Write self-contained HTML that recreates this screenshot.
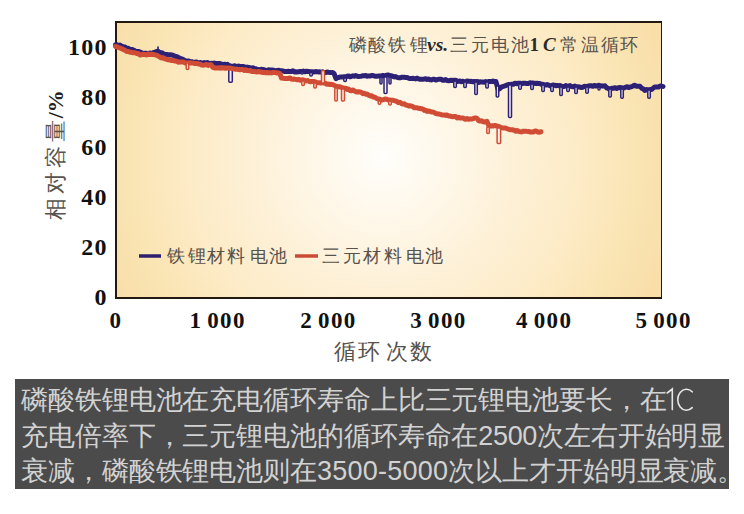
<!DOCTYPE html>
<html><head><meta charset="utf-8">
<style>
html,body{margin:0;padding:0;background:#fff;width:744px;height:514px;overflow:hidden;position:relative}
.plot{position:absolute;left:115px;top:21px;width:544px;height:274px;border:2px solid #221a10;border-right-width:1px;
background:radial-gradient(circle at 266px 134px,#fffefb 0px,#fffaf0 40px,#fdf0d6 135px,#fdebc6 200px,#fbe6b8 240px,#f9e3b0 265px,#f9e0ad 285px,#fadea8 300px,#f9daa2 340px)}
svg{position:absolute;left:0;top:0}
.cap{position:absolute;left:15px;top:379px;width:714px;height:110px;background:#4b4b4b;color:#d2d2d2;
font-family:"Liberation Sans",sans-serif;font-size:27px;line-height:35px;letter-spacing:-0.1px}
.cap div{position:absolute;left:6px;white-space:nowrap}
</style></head><body>
<div class="plot"></div>
<svg width="744" height="514" viewBox="0 0 744 514">
<text x="107.7" y="55.4" font-size="24" font-weight="bold" letter-spacing="1.2" text-anchor="end" fill="#111" font-family="Liberation Serif">100</text>
<text x="107.7" y="105.4" font-size="24" font-weight="bold" letter-spacing="1.2" text-anchor="end" fill="#111" font-family="Liberation Serif">80</text>
<text x="107.7" y="155.4" font-size="24" font-weight="bold" letter-spacing="1.2" text-anchor="end" fill="#111" font-family="Liberation Serif">60</text>
<text x="107.7" y="205.4" font-size="24" font-weight="bold" letter-spacing="1.2" text-anchor="end" fill="#111" font-family="Liberation Serif">40</text>
<text x="107.7" y="255.4" font-size="24" font-weight="bold" letter-spacing="1.2" text-anchor="end" fill="#111" font-family="Liberation Serif">20</text>
<text x="107.7" y="305.4" font-size="24" font-weight="bold" letter-spacing="1.2" text-anchor="end" fill="#111" font-family="Liberation Serif">0</text>
<text x="115.9" y="327.6" font-size="23" font-weight="bold" letter-spacing="1.3" word-spacing="-2" text-anchor="middle" fill="#111" font-family="Liberation Serif">0</text>
<text x="217.6" y="327.6" font-size="23" font-weight="bold" letter-spacing="1.3" word-spacing="-2" text-anchor="middle" fill="#111" font-family="Liberation Serif">1 000</text>
<text x="328.4" y="327.6" font-size="23" font-weight="bold" letter-spacing="1.3" word-spacing="-2" text-anchor="middle" fill="#111" font-family="Liberation Serif">2 000</text>
<text x="438.4" y="327.6" font-size="23" font-weight="bold" letter-spacing="1.3" word-spacing="-2" text-anchor="middle" fill="#111" font-family="Liberation Serif">3 000</text>
<text x="544.1" y="327.6" font-size="23" font-weight="bold" letter-spacing="1.3" word-spacing="-2" text-anchor="middle" fill="#111" font-family="Liberation Serif">4 000</text>
<text x="663.6" y="327.6" font-size="23" font-weight="bold" letter-spacing="1.3" word-spacing="-2" text-anchor="middle" fill="#111" font-family="Liberation Serif">5 000</text>
<text x="348.5" y="51.0" font-size="18" fill="#57524c" font-family="Liberation Serif">磷</text>
<text x="368.0" y="51.0" font-size="18" fill="#57524c" font-family="Liberation Serif">酸</text>
<text x="387.5" y="51.0" font-size="18" fill="#57524c" font-family="Liberation Serif">铁</text>
<text x="410.4" y="51.0" font-size="18" fill="#57524c" font-family="Liberation Serif">锂</text>
<text x="427" y="51" font-size="19.5" font-weight="bold" font-style="italic" fill="#2a2a2a" font-family="Liberation Serif">vs.</text>
<text x="449.5" y="51.0" font-size="18" fill="#57524c" font-family="Liberation Serif">三</text>
<text x="471.1" y="51.0" font-size="18" fill="#57524c" font-family="Liberation Serif">元</text>
<text x="491.2" y="51.0" font-size="18" fill="#57524c" font-family="Liberation Serif">电</text>
<text x="510.7" y="51.0" font-size="18" fill="#57524c" font-family="Liberation Serif">池</text>
<text x="529.5" y="51" font-size="19" font-weight="bold" fill="#2a2a2a" font-family="Liberation Serif">1</text>
<text x="543" y="51" font-size="19" font-weight="bold" font-style="italic" fill="#2a2a2a" font-family="Liberation Serif">C</text>
<text x="560.3" y="51.0" font-size="18" fill="#57524c" font-family="Liberation Serif">常</text>
<text x="580.5" y="51.0" font-size="18" fill="#57524c" font-family="Liberation Serif">温</text>
<text x="600.7" y="51.0" font-size="18" fill="#57524c" font-family="Liberation Serif">循</text>
<text x="620.1" y="51.0" font-size="18" fill="#57524c" font-family="Liberation Serif">环</text>
<text x="166.5" y="262.0" font-size="18" fill="#57524c" font-family="Liberation Serif">铁</text>
<text x="188.3" y="262.0" font-size="18" fill="#57524c" font-family="Liberation Serif">锂</text>
<text x="206.7" y="262.0" font-size="18" fill="#57524c" font-family="Liberation Serif">材</text>
<text x="226.8" y="262.0" font-size="18" fill="#57524c" font-family="Liberation Serif">料</text>
<text x="250.4" y="262.0" font-size="18" fill="#57524c" font-family="Liberation Serif">电</text>
<text x="268.8" y="262.0" font-size="18" fill="#57524c" font-family="Liberation Serif">池</text>
<text x="322.4" y="262.0" font-size="18" fill="#57524c" font-family="Liberation Serif">三</text>
<text x="343.3" y="262.0" font-size="18" fill="#57524c" font-family="Liberation Serif">元</text>
<text x="362.5" y="262.0" font-size="18" fill="#57524c" font-family="Liberation Serif">材</text>
<text x="383.5" y="262.0" font-size="18" fill="#57524c" font-family="Liberation Serif">料</text>
<text x="405.5" y="262.0" font-size="18" fill="#57524c" font-family="Liberation Serif">电</text>
<text x="424.5" y="262.0" font-size="18" fill="#57524c" font-family="Liberation Serif">池</text>
<text x="333.8" y="358.6" font-size="22" fill="#57524c" font-family="Liberation Serif">循</text>
<text x="358.0" y="358.6" font-size="22" fill="#57524c" font-family="Liberation Serif">环</text>
<text x="386.3" y="358.6" font-size="22" fill="#57524c" font-family="Liberation Serif">次</text>
<text x="409.6" y="358.6" font-size="22" fill="#57524c" font-family="Liberation Serif">数</text>
<text transform="translate(62.5,219.8) rotate(-90)" x="0" y="0" font-size="21.5" fill="#57524c" font-family="Liberation Serif">相</text>
<text transform="translate(62.5,194.0) rotate(-90)" x="0" y="0" font-size="21.5" fill="#57524c" font-family="Liberation Serif">对</text>
<text transform="translate(62.5,168.1) rotate(-90)" x="0" y="0" font-size="21.5" fill="#57524c" font-family="Liberation Serif">容</text>
<text transform="translate(62.5,142.3) rotate(-90)" x="0" y="0" font-size="21.5" fill="#57524c" font-family="Liberation Serif">量</text>
<text transform="translate(62.5,118.3) rotate(-90)" x="0" y="0" font-size="22" font-weight="bold" fill="#222" font-family="Liberation Serif">/%</text>
<line x1="139" y1="256" x2="161" y2="256" stroke="#2d1f6e" stroke-width="3.5"/>
<line x1="295" y1="256" x2="318" y2="256" stroke="#cc4a35" stroke-width="3.5"/>
<polyline fill="none" stroke-linejoin="round" stroke-linecap="round" stroke="#2d2175" stroke-width="5" points="115.5,44.8 117.0,44.8 118.5,45.6 120.0,45.1 121.7,46.3 123.3,46.7 125.0,47.0 126.7,48.2 128.3,48.3 130.0,49.5 131.7,49.5 133.3,50.0 135.0,50.8 136.7,51.8 138.3,51.4 140.0,52.0 141.7,52.8 143.3,53.4 145.0,53.3 146.7,53.2 148.3,54.0 150.0,53.0 151.7,53.6 153.3,52.6 155.0,52.1 156.5,51.5 158.0,51.3 160.0,52.9 161.7,52.7 163.3,53.7 165.0,54.4 166.7,54.4 168.3,54.9 170.0,54.7 171.7,55.0 173.3,55.4 175.0,56.3 176.7,56.7 178.3,57.3 180.0,58.3 181.7,58.9 183.3,59.5 185.0,60.9 186.7,61.1 188.3,60.9 190.0,61.6 191.7,61.7 193.3,62.3 195.0,62.3 196.7,62.1 198.3,63.2 200.0,62.5 201.4,62.9 202.9,63.3 204.3,62.6 205.8,63.0 207.2,62.5 208.7,63.3 210.1,63.4 211.6,63.2 213.0,63.6 214.4,63.0 215.8,63.5 217.2,63.5 218.6,63.6 220.0,63.5 221.5,64.2 223.0,64.6 224.5,64.2 226.0,64.7 227.3,64.3 228.7,65.4 230.0,65.7 231.4,66.3 232.9,66.3 234.3,65.8 235.7,66.1 237.1,66.6 238.6,66.0 240.0,66.8 241.4,66.5 242.9,66.6 244.3,66.7 245.7,67.7 247.1,67.1 248.6,67.4 250.0,67.7 251.4,68.5 252.9,67.8 254.3,68.5 255.7,68.8 257.1,69.5 258.6,69.6 260.0,69.9 261.4,69.3 262.9,69.6 264.3,69.7 265.7,70.4 267.1,70.6 268.6,69.8 270.0,69.9 271.5,70.1 273.0,70.1 274.5,70.5 276.0,70.7 277.5,70.4 279.0,70.2 280.5,70.8 282.0,70.8 283.5,71.1 285.0,71.6 286.7,71.4 288.3,71.3 290.0,71.4 291.4,71.5 292.9,70.8 294.3,71.9 295.7,71.8 297.1,71.9 298.6,71.8 300.0,71.4 301.7,71.4 303.3,71.1 305.0,71.8 306.7,71.2 308.3,71.4 310.0,71.8 311.7,71.7 313.3,72.0 315.0,71.7 316.5,71.6 318.0,71.9 319.5,71.8 321.0,72.2 322.5,71.8 324.0,72.9 325.5,72.6 327.0,72.1 328.5,72.3 330.0,72.4 331.3,72.6 332.7,72.4 334.0,73.4 336.0,78.6 337.3,77.8 338.7,77.6 340.0,77.0 341.4,76.9 342.9,77.0 344.3,76.7 345.7,77.2 347.1,76.2 348.6,75.9 350.0,76.8 351.4,76.3 352.9,75.8 354.3,76.2 355.7,75.6 357.1,76.1 358.6,76.6 360.0,76.4 361.4,76.2 362.9,75.7 364.3,75.8 365.7,75.5 367.1,76.2 368.6,75.9 370.0,76.1 371.4,75.6 372.9,75.4 374.3,76.1 375.7,76.3 377.1,76.2 378.6,76.1 380.0,76.1 381.4,76.0 382.9,75.4 384.3,75.7 385.7,75.5 387.1,75.1 388.6,75.1 390.0,75.4 391.4,75.6 392.9,76.4 394.3,76.9 395.7,76.6 397.1,77.4 398.6,77.7 400.0,77.8 401.4,77.3 402.9,77.2 404.3,77.3 405.7,77.4 407.1,77.5 408.6,78.1 410.0,78.6 411.4,78.6 412.9,78.3 414.3,78.6 415.7,78.9 417.1,78.1 418.6,78.9 420.0,79.3 421.4,79.2 422.9,79.2 424.3,79.0 425.7,78.7 427.1,79.5 428.6,79.0 430.0,79.7 431.4,79.9 432.9,79.3 434.3,79.3 435.7,80.0 437.1,79.8 438.6,79.2 440.0,79.2 441.4,79.3 442.9,80.3 444.3,80.3 445.7,79.6 447.1,80.5 448.6,80.8 450.0,80.5 451.4,80.2 452.9,80.6 454.3,80.2 455.7,80.2 457.1,81.4 458.6,81.2 460.0,81.1 461.4,81.7 462.9,81.2 464.3,81.8 465.7,81.8 467.1,81.1 468.6,81.2 470.0,81.4 471.4,81.3 472.9,81.8 474.3,81.5 475.7,81.7 477.1,81.4 478.6,82.4 480.0,81.8 481.4,81.9 482.9,81.9 484.3,82.2 485.7,81.6 487.1,82.1 488.6,81.5 490.0,81.4 491.5,81.6 493.0,81.1 494.5,81.8 496.0,81.6 498.0,89.4 500.0,88.4 501.7,86.8 503.3,86.3 505.0,85.8 506.7,85.2 508.3,84.6 510.0,84.5 511.7,84.3 513.3,84.3 515.0,83.2 516.7,83.7 518.3,83.3 520.0,83.2 521.7,83.7 523.3,83.3 525.0,83.3 526.7,83.4 528.3,83.5 530.0,82.8 531.4,83.1 532.9,83.1 534.3,83.2 535.7,83.5 537.1,83.3 538.6,83.5 540.0,83.6 541.4,84.4 542.9,84.3 544.3,84.8 545.7,85.1 547.1,84.5 548.6,85.1 550.0,85.8 551.4,85.8 552.9,85.1 554.3,85.2 555.7,85.7 557.1,85.4 558.6,85.7 560.0,85.6 561.4,86.3 562.9,86.4 564.3,86.5 565.7,85.6 567.1,86.3 568.6,86.2 570.0,85.6 571.7,86.6 573.3,86.8 575.0,86.0 576.7,87.1 578.3,86.7 580.0,87.1 581.4,87.5 582.9,87.2 584.3,86.3 585.7,86.4 587.1,86.4 588.6,86.0 590.0,85.7 591.4,85.8 592.9,86.3 594.3,85.4 595.7,86.0 597.1,85.8 598.6,85.3 600.0,85.6 601.7,86.1 603.3,86.1 605.0,85.8 606.7,87.8 608.3,88.4 610.0,89.6 611.7,88.3 613.3,88.3 615.0,87.7 616.7,88.5 618.3,87.8 620.0,87.6 621.4,87.7 622.9,88.2 624.3,87.9 625.7,87.1 627.1,86.8 628.6,87.6 630.0,87.0 631.7,86.8 633.3,85.7 635.0,85.3 636.7,86.3 638.3,86.3 640.0,86.2 641.7,88.3 643.3,89.1 645.0,90.4 646.7,89.5 648.3,90.4 650.0,89.5 651.7,89.5 653.3,88.0 655.0,86.9 656.7,86.9 658.3,87.1 660.0,86.0 661.5,86.0 663.0,86.5"/>
<line x1="158" y1="52" x2="158" y2="47" stroke="#2d2175" stroke-width="1.6" stroke-linecap="round"/>
<g fill="#f4f0f4" stroke="#2d2175" stroke-width="1.5">
<rect x="228.8" y="66.0" width="3.5" height="16.3" rx="1"/>
<rect x="300.8" y="72.0" width="2.5" height="2.0" rx="1"/>
<rect x="309.8" y="72.5" width="2.5" height="3.5" rx="1"/>
<rect x="343.8" y="78.0" width="2.5" height="3.5" rx="1"/>
<rect x="384.0" y="77.0" width="3.0" height="16.5" rx="1"/>
<rect x="380.0" y="77.0" width="2.0" height="7.0" rx="1"/>
<rect x="389.0" y="77.0" width="2.0" height="7.0" rx="1"/>
<rect x="453.8" y="81.0" width="2.5" height="6.5" rx="1"/>
<rect x="463.8" y="82.0" width="2.5" height="5.5" rx="1"/>
<rect x="474.8" y="82.0" width="2.5" height="12.5" rx="1"/>
<rect x="485.8" y="82.0" width="2.5" height="6.1" rx="1"/>
<rect x="496.2" y="86.0" width="2.5" height="11.0" rx="1"/>
<rect x="508.5" y="85.0" width="3.0" height="32.5" rx="1"/>
<rect x="518.8" y="84.0" width="2.5" height="5.3" rx="1"/>
<rect x="530.8" y="84.0" width="2.5" height="5.5" rx="1"/>
<rect x="541.8" y="85.0" width="2.5" height="6.5" rx="1"/>
<rect x="550.8" y="86.0" width="2.5" height="5.5" rx="1"/>
<rect x="559.8" y="87.0" width="2.5" height="8.5" rx="1"/>
<rect x="566.8" y="87.0" width="2.5" height="4.5" rx="1"/>
<rect x="574.8" y="87.0" width="2.5" height="6.5" rx="1"/>
<rect x="585.8" y="87.0" width="2.5" height="6.2" rx="1"/>
<rect x="598.0" y="87.0" width="2.0" height="3.0" rx="1"/>
<rect x="608.8" y="89.0" width="2.5" height="7.9" rx="1"/>
<rect x="620.8" y="89.0" width="2.5" height="9.2" rx="1"/>
<rect x="647.8" y="90.0" width="2.5" height="8.2" rx="1"/>
</g>
<polyline fill="none" stroke-linejoin="round" stroke-linecap="round" stroke="#d04c35" stroke-width="5" points="115.5,46.5 117.0,46.9 118.5,47.5 120.0,48.0 121.7,48.8 123.3,49.6 125.0,50.3 126.7,51.4 128.3,51.4 130.0,52.3 131.7,52.3 133.3,52.8 135.0,52.8 136.7,53.5 138.3,53.6 140.0,54.9 141.7,54.7 143.3,54.2 145.0,54.6 146.7,55.0 148.3,53.9 150.0,54.6 151.7,54.2 153.3,54.4 155.0,54.9 156.7,55.2 158.3,56.2 160.0,57.2 161.7,58.1 163.3,57.8 165.0,58.9 166.7,59.3 168.3,59.8 170.0,60.1 171.7,60.5 173.3,60.5 175.0,61.1 176.7,61.2 178.3,62.3 180.0,61.9 181.7,61.9 183.3,61.9 185.0,62.9 186.7,63.1 188.3,63.0 190.0,62.7 191.7,62.9 193.3,63.1 195.0,63.5 196.7,63.4 198.3,64.0 200.0,64.1 201.7,65.1 203.3,65.2 205.0,64.9 206.5,64.5 208.0,65.5 209.5,64.7 211.0,64.8 213.0,67.4 214.4,67.9 215.8,68.0 217.2,68.1 218.6,67.8 220.0,68.2 221.4,67.6 222.9,68.0 224.3,67.8 225.7,68.3 227.1,67.9 228.6,67.9 230.0,68.3 231.4,68.3 232.9,68.8 234.3,68.9 235.7,69.3 237.1,69.3 238.6,69.4 240.0,69.8 241.4,69.4 242.9,69.5 244.3,70.5 245.7,69.7 247.1,70.6 248.6,70.8 250.0,70.3 251.4,71.4 252.9,71.6 254.3,71.5 255.7,71.8 257.1,72.0 258.6,71.4 260.0,72.0 261.4,72.1 262.9,72.5 264.3,72.6 265.7,72.7 267.1,72.5 268.6,72.9 270.0,72.7 271.4,72.9 272.9,72.5 274.3,72.4 275.7,72.6 277.1,73.0 278.6,72.9 280.0,73.9 281.5,78.1 283.2,78.3 285.0,78.4 286.7,78.5 288.3,78.4 290.0,77.9 291.4,79.1 292.9,79.2 294.3,79.1 295.7,79.4 297.1,79.8 298.6,79.3 300.0,80.3 301.5,79.9 303.0,79.8 304.5,80.3 306.0,81.0 307.5,80.5 309.0,81.4 310.5,81.8 312.0,81.4 313.5,81.5 315.0,81.8 316.5,82.3 318.0,82.7 319.5,82.8 321.0,83.1 322.5,82.6 324.0,83.0 325.5,83.4 327.0,84.3 328.5,84.0 330.0,84.6 331.4,84.3 332.9,84.7 334.3,85.3 335.7,86.1 337.1,86.5 338.6,86.9 340.0,86.7 341.4,87.4 342.9,87.8 344.3,88.2 345.7,88.2 347.1,89.5 348.6,89.1 350.0,90.5 351.4,90.8 352.9,90.0 354.3,90.8 355.7,91.6 357.1,92.1 358.6,91.8 360.0,91.9 361.4,92.3 362.9,93.7 364.3,93.3 365.7,94.2 367.1,94.1 368.6,95.1 370.0,96.0 371.7,95.7 373.3,97.1 375.0,97.3 376.7,98.5 378.3,99.1 380.0,99.3 381.7,100.1 383.3,99.6 385.0,99.0 386.7,99.2 388.3,100.0 390.0,100.1 391.7,100.2 393.3,100.3 395.0,100.8 396.7,101.4 398.3,102.6 400.0,102.2 401.4,103.6 402.9,104.1 404.3,103.7 405.7,105.1 407.1,105.3 408.6,106.0 410.0,105.7 411.4,106.2 412.9,106.7 414.3,107.8 415.7,107.7 417.1,107.8 418.6,108.3 420.0,108.5 421.4,108.7 422.9,109.2 424.3,110.4 425.7,110.2 427.1,111.4 428.6,111.0 430.0,111.4 431.4,112.0 432.9,112.0 434.3,112.5 435.7,113.6 437.1,113.8 438.6,114.0 440.0,114.2 441.4,114.8 442.9,115.1 444.3,114.9 445.7,115.4 447.1,114.9 448.6,116.0 450.0,115.9 451.4,116.6 452.9,116.7 454.3,116.6 455.7,116.6 457.1,117.9 458.6,117.3 460.0,118.0 461.4,118.0 462.9,118.1 464.3,118.8 465.7,119.3 467.1,118.6 468.6,119.2 470.0,119.0 471.5,119.0 473.0,118.6 474.5,118.1 476.0,117.9 477.3,118.8 478.7,120.6 480.0,121.0 481.7,120.8 483.3,121.8 485.0,122.0 487.0,121.4 489.0,126.1 490.5,126.0 492.0,125.8 493.5,125.9 495.0,125.5 496.7,126.0 498.3,126.4 500.0,127.1 501.7,127.8 503.3,128.0 505.0,127.9 506.7,128.5 508.3,129.2 510.0,129.7 511.4,129.8 512.9,129.8 514.3,130.3 515.7,131.3 517.1,130.6 518.6,131.3 520.0,131.7 521.4,131.9 522.9,131.2 524.3,131.2 525.7,131.2 527.1,131.4 528.6,131.4 530.0,132.0 531.6,132.0 533.1,132.0 534.7,131.1 536.3,131.1 537.9,132.0 539.4,132.2 541.0,131.8"/>
<g fill="#f8efe6" stroke="#d04c35" stroke-width="1.5">
<rect x="186.2" y="63.0" width="2.5" height="6.6" rx="1"/>
<rect x="301.8" y="81.0" width="2.5" height="4.5" rx="1"/>
<rect x="313.8" y="83.0" width="2.5" height="5.0" rx="1"/>
<rect x="321.5" y="70.5" width="3.0" height="12.5" rx="1"/>
<rect x="334.8" y="88.0" width="2.5" height="13.0" rx="1"/>
<rect x="341.5" y="89.0" width="3.0" height="12.0" rx="1"/>
<rect x="378.2" y="101.0" width="2.5" height="3.3" rx="1"/>
<rect x="388.8" y="101.0" width="2.5" height="4.0" rx="1"/>
<rect x="486.8" y="127.0" width="2.5" height="6.6" rx="1"/>
<rect x="497.1" y="128.0" width="3.5" height="15.4" rx="1"/>
</g>
</svg>
<div class="cap">
<div style="top:4px">磷酸铁锂电池在充电循环寿命上比三元锂电池要长，在</div>
<div style="top:40px">充电倍率下，三元锂电池的循环寿命在<span style="letter-spacing:-0.35px">2500</span>次左右开始明显</div>
<div style="top:75px">衰减，磷酸铁锂电池则在<span style="letter-spacing:0.25px">3500-5000</span>次以上才开始明显衰减。</div>
<svg width="744" height="514" style="position:absolute;left:-15px;top:-379px" fill="none" stroke="#e6e6e6" stroke-width="1.6" stroke-linecap="round">
<path d="M667.2,393 L672.3,389 L672.3,409.6"/>
<path d="M692.2,391.8 A8.7,10.5 0 1 0 692.2,407.6"/>
</svg>
</div>
</body></html>
